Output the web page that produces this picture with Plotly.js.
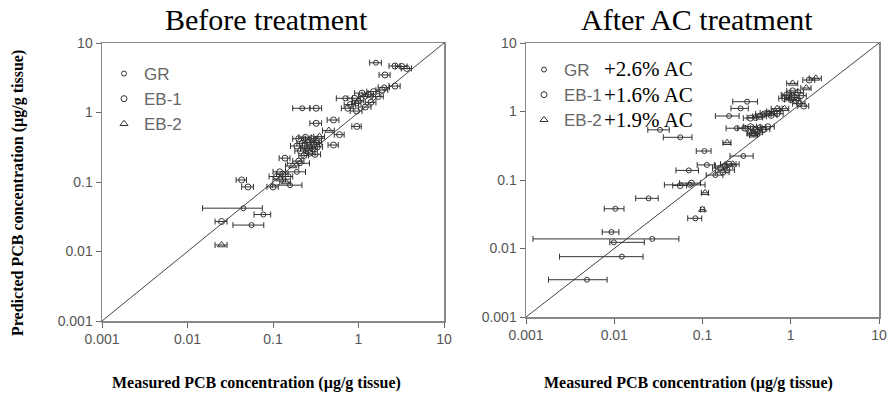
<!DOCTYPE html>
<html><head><meta charset="utf-8">
<script src="https://cdn.plot.ly/plotly-3.0.1.min.js"></script>
<style>html,body{margin:0;padding:0;background:#fff}#chart{width:891px;height:396px}</style>
</head><body><div id="chart"></div>
<script>
// ---------- DATA ----------
const tickVals = [0.001, 0.01, 0.1, 1, 10];
const tickText = ['0.001', '0.01', '0.1', '1', '10'];
const oneToOne = [0.001, 10];
const seriesNames = ['GR', 'EB-1', 'EB-2'];
const acLabels = ['+2.6% AC', '+1.6% AC', '+1.9% AC'];
const titleBefore = 'Before treatment';
const titleAfter = 'After AC treatment';
const yTitle = 'Predicted PCB concentration (\u00b5g/g tissue)';
const xTitle = 'Measured PCB concentration (\u00b5g/g tissue)';

// Before treatment
const grBx = [1.6, 0.22, 0.045, 0.056, 0.077, 0.158, 0.207, 0.19, 0.7, 1.2, 2.0, 0.95, 0.32, 0.25];
const grBy = [5.2, 1.15, 0.042, 0.024, 0.034, 0.09, 0.186, 0.14, 1.6, 1.7, 2.3, 1.35, 0.37, 0.3];
const grBe = [0.25, 0.05, 0.03, 0.022, 0.017, 0.06, 0.06, 0.05, 0.15, 0.2, 0.3, 0.12, 0.05, 0.04];
const eb1Bx = [2.67, 3.2, 3.66, 2.04, 2.67, 1.9, 1.5, 1.3, 1.1, 0.9, 1.7, 1.4, 1.2, 0.95, 0.8, 0.75, 0.32, 0.32, 0.51, 0.955, 0.6, 0.51,
  0.2, 0.24, 0.28, 0.32, 0.22, 0.26, 0.3, 0.19, 0.25, 0.29, 0.33, 0.21, 0.27, 0.31, 0.23, 0.138, 0.2,
  0.13, 0.11, 0.15, 0.12, 0.1, 0.043, 0.051, 0.025];
const eb1By = [4.67, 4.6, 4.3, 3.47, 2.4, 2.1, 2.0, 1.8, 1.9, 1.6, 1.7, 1.4, 1.2, 1.05, 1.3, 1.15, 1.15, 0.70, 0.78, 0.63, 0.48, 0.34,
  0.42, 0.44, 0.42, 0.40, 0.36, 0.37, 0.35, 0.33, 0.31, 0.30, 0.32, 0.28, 0.26, 0.25, 0.24, 0.22, 0.2,
  0.13, 0.12, 0.12, 0.14, 0.085, 0.107, 0.085, 0.027];
const eb1Be = [0.4, 0.5, 0.5, 0.3, 0.4, 0.3, 0.25, 0.2, 0.2, 0.15, 0.25, 0.2, 0.2, 0.15, 0.12, 0.12, 0.05, 0.05, 0.08, 0.12, 0.08, 0.07,
  0.03, 0.04, 0.04, 0.05, 0.03, 0.04, 0.05, 0.03, 0.04, 0.04, 0.05, 0.03, 0.04, 0.05, 0.03, 0.02, 0.03,
  0.02, 0.02, 0.02, 0.02, 0.015, 0.006, 0.008, 0.004];
const eb2Bx = [0.025, 0.12, 0.17, 0.45, 0.35, 1.0, 0.14];
const eb2By = [0.0124, 0.11, 0.17, 0.55, 0.45, 1.5, 0.1];
const eb2Be = [0.004, 0.02, 0.03, 0.07, 0.05, 0.15, 0.02];

// After AC treatment
const grAx = [0.0049, 0.0122, 0.0099, 0.027, 0.0093, 0.0103, 0.0245, 0.033, 0.056, 0.105, 0.112, 0.07, 0.083, 0.29, 0.32, 0.27, 0.2, 0.245, 0.072, 0.14];
const grAy = [0.0035, 0.0076, 0.0123, 0.0138, 0.0174, 0.038, 0.054, 0.54, 0.42, 0.265, 0.166, 0.138, 0.0276, 0.224, 1.39, 1.11, 0.86, 0.57, 0.085, 0.118];
const grAePlus = [0.0034, 0.009, 0.012, 0.027, 0.002, 0.0026, 0.007, 0.009, 0.02, 0.02, 0.025, 0.02, 0.015, 0.085, 0.1, 0.06, 0.06, 0.06, 0.035, 0.03];
const grAeMinus = [0.0031, 0.0098, 0.001, 0.0258, 0.002, 0.0026, 0.007, 0.009, 0.02, 0.02, 0.025, 0.02, 0.015, 0.085, 0.1, 0.06, 0.06, 0.06, 0.035, 0.03];
const eb1Ax = [1.05, 1.2, 0.95, 1.1, 1.3, 1.0, 1.15, 0.85, 0.9, 1.25, 1.4,
  0.45, 0.5, 0.55, 0.6, 0.65, 0.7, 0.4, 0.35,
  0.35, 0.4, 0.45, 0.5, 0.55, 0.42, 0.38, 0.3,
  0.16, 0.18, 0.2, 0.17, 0.19, 0.075, 0.056, 1.62];
const eb1Ay = [2.0, 1.9, 1.7, 1.6, 1.7, 1.5, 1.45, 1.55, 1.75, 1.3, 1.2,
  0.85, 0.92, 0.95, 0.88, 1.0, 0.93, 0.82, 0.8,
  0.6, 0.55, 0.58, 0.55, 0.6, 0.5, 0.48, 0.57,
  0.15, 0.16, 0.17, 0.13, 0.14, 0.09, 0.083, 2.88];
const eb1Ae = [0.15, 0.2, 0.15, 0.15, 0.2, 0.15, 0.15, 0.12, 0.12, 0.2, 0.2,
  0.08, 0.1, 0.1, 0.1, 0.12, 0.12, 0.08, 0.06,
  0.06, 0.07, 0.07, 0.08, 0.1, 0.06, 0.06, 0.05,
  0.03, 0.04, 0.04, 0.03, 0.04, 0.02, 0.01, 0.25];
const eb2Ax = [1.92, 1.05, 1.5, 0.19, 0.107, 0.1, 0.36, 0.7, 0.85, 0.22, 0.38];
const eb2Ay = [3.05, 2.57, 2.2, 0.35, 0.065, 0.037, 0.48, 1.1, 1.1, 0.17, 0.45];
const eb2Ae = [0.3, 0.15, 0.2, 0.02, 0.01, 0.005, 0.04, 0.1, 0.1, 0.04, 0.04];

// ---------- BUILD ----------
const ink = '#333';
const symbols = ['circle-open', 'circle-open', 'triangle-up-open'];
const sizes = [5, 6, 7];
function pts(x, y, plus, minus, idx, xa, ya, leg) {
  return {
    type: 'scatter', mode: 'markers', x: x, y: y, name: seriesNames[idx],
    xaxis: xa, yaxis: ya, legend: leg,
    marker: {symbol: symbols[idx], size: sizes[idx], color: ink, line: {width: 1, color: ink}},
    error_x: {type: 'data', symmetric: false, array: plus, arrayminus: minus, color: ink, thickness: 1, width: 3}
  };
}
const traces = [
  {type: 'scatter', mode: 'lines', x: oneToOne, y: oneToOne, xaxis: 'x', yaxis: 'y', showlegend: false, line: {color: '#444', width: 1}, hoverinfo: 'skip'},
  {type: 'scatter', mode: 'lines', x: oneToOne, y: oneToOne, xaxis: 'x2', yaxis: 'y2', showlegend: false, line: {color: '#444', width: 1}, hoverinfo: 'skip'},
  pts(grBx, grBy, grBe, grBe, 0, 'x', 'y', 'legend'),
  pts(eb1Bx, eb1By, eb1Be, eb1Be, 1, 'x', 'y', 'legend'),
  pts(eb2Bx, eb2By, eb2Be, eb2Be, 2, 'x', 'y', 'legend'),
  pts(grAx, grAy, grAePlus, grAeMinus, 0, 'x2', 'y2', 'legend2'),
  pts(eb1Ax, eb1Ay, eb1Ae, eb1Ae, 1, 'x2', 'y2', 'legend2'),
  pts(eb2Ax, eb2Ay, eb2Ae, eb2Ae, 2, 'x2', 'y2', 'legend2')
];

const W = 891, H = 396;
const fx = p => p / W, fy = p => 1 - p / H;
const tickFont = {family: 'Liberation Sans, Arial, sans-serif', size: 14, color: '#555'};
function axis(dom, anchor) {
  return {
    type: 'log', range: [-3, 1], domain: dom, anchor: anchor,
    tickmode: 'array', tickvals: tickVals, ticktext: tickText,
    ticks: 'outside', ticklen: 5, tickcolor: '#666', tickwidth: 1,
    showline: true, linecolor: '#888', linewidth: 1.5, mirror: true,
    showgrid: false, zeroline: false, tickfont: tickFont, fixedrange: true
  };
}
const legendBase = {
  bgcolor: 'rgba(0,0,0,0)', borderwidth: 0,
  font: {family: 'Liberation Sans, Arial, sans-serif', size: 17, color: '#666'},
  xanchor: 'left', yanchor: 'top', tracegroupgap: 0, itemwidth: 30
};
const serif = 'Liberation Serif, Times New Roman, serif';
function note(text, x, y, size, extra) {
  return Object.assign({text: text, x: fx(x), y: fy(y), xref: 'paper', yref: 'paper', xanchor: 'center', yanchor: 'middle',
    showarrow: false, font: {family: serif, size: size, color: '#000'}}, extra || {});
}
const annotations = [
  note(titleBefore, 266, 19, 30),
  note(titleAfter, 697, 19, 30),
  note('<b>' + yTitle + '</b>', 18, 193, 16, {textangle: -90}),
  note('<b>' + xTitle + '</b>', 256, 383, 16),
  note('<b>' + xTitle + '</b>', 688, 383, 16)
];
acLabels.forEach((t, i) => annotations.push(note(t, 602, 69 + i * 25.5, 21, {xanchor: 'left'})));

const layout = {
  width: W, height: H, margin: {l: 0, r: 0, t: 0, b: 0},
  paper_bgcolor: '#fff', plot_bgcolor: '#fff', showlegend: true,
  xaxis: axis([fx(102), fx(444)], 'y'),
  yaxis: axis([fy(321), fy(43)], 'x'),
  xaxis2: axis([fx(526), fx(879)], 'y2'),
  yaxis2: axis([fy(317), fy(43)], 'x2'),
  legend: Object.assign({}, legendBase, {x: fx(104), y: fy(56)}),
  legend2: Object.assign({}, legendBase, {x: fx(524), y: fy(52)}),
  annotations: annotations
};
Plotly.newPlot('chart', traces, layout, {staticPlot: true, displayModeBar: false});
</script></body></html>
